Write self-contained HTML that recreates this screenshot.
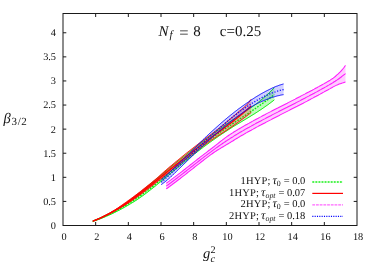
<!DOCTYPE html>
<html><head><meta charset="utf-8"><title>plot</title>
<style>
html,body{margin:0;padding:0;background:#fff;}
body{width:374px;height:262px;overflow:hidden;}
svg{display:block;font-family:"Liberation Serif",serif;}
svg text{fill:#111;text-rendering:geometricPrecision;}
</style></head><body>
<svg width="374" height="262" viewBox="0 0 374 262">
<defs><linearGradient id="rg" gradientUnits="userSpaceOnUse" x1="140" y1="0" x2="185" y2="0"><stop offset="0" stop-color="#ff0000" stop-opacity="0.85"/><stop offset="1" stop-color="#ff0000" stop-opacity="0.22"/></linearGradient></defs>
<rect x="0" y="0" width="374" height="262" fill="#ffffff"/>
<g>
<path d="M92.8,220.9 L93.8,220.5 L94.8,220.1 L95.8,219.7 L96.8,219.3 L97.8,218.9 L98.8,218.5 L99.8,218.1 L100.8,217.6 L101.8,217.2 L102.8,216.7 L103.8,216.2 L104.8,215.7 L105.8,215.2 L106.8,214.7 L107.8,214.2 L108.8,213.7 L109.8,213.2 L110.8,212.6 L111.8,212.1 L112.8,211.6 L113.8,211.0 L114.8,210.4 L115.8,209.8 L116.8,209.2 L117.8,208.6 L118.8,208.0 L119.8,207.3 L120.8,206.7 L121.8,206.0 L122.8,205.3 L123.8,204.7 L124.8,204.0 L125.8,203.3 L126.8,202.6 L127.8,201.8 L128.8,201.1 L129.8,200.4 L130.8,199.6 L131.8,198.9 L132.8,198.1 L133.8,197.3 L134.8,196.5 L135.8,195.7 L136.8,194.9 L137.8,194.1 L138.8,193.3 L139.8,192.5 L140.8,191.8 L141.8,191.0 L142.8,190.2 L143.8,189.4 L144.8,188.6 L145.8,187.8 L146.8,186.9 L147.8,186.1 L148.8,185.3 L149.8,184.5 L150.8,183.6 L151.8,182.8 L152.8,182.0 L153.8,181.2 L154.8,180.4 L155.8,179.5 L156.8,178.7 L157.8,177.9 L158.8,177.1 L159.8,176.2 L160.8,175.4 L161.8,174.6 L162.8,173.7 L163.8,172.9 L164.8,172.0 L165.8,171.2 L166.8,170.4 L167.8,169.5 L168.8,168.7 L169.8,167.8 L170.8,167.0 L171.8,166.1 L172.8,165.3 L173.8,164.5 L174.8,163.7 L175.8,162.9 L176.8,162.1 L177.8,161.3 L178.8,160.5 L179.8,159.7 L180.8,158.9 L181.8,158.1 L182.8,157.3 L183.8,156.6 L184.8,155.8 L185.8,155.0 L186.8,154.2 L187.8,153.4 L188.8,152.6 L189.8,151.8 L190.8,151.0 L191.8,150.2 L192.8,149.4 L193.8,148.6 L194.8,147.8 L195.8,147.0 L196.8,146.3 L197.8,145.5 L198.8,144.7 L199.8,143.9 L200.8,143.2 L201.8,142.4 L202.8,141.6 L203.8,140.9 L204.8,140.1 L205.8,139.3 L206.8,138.6 L207.8,137.8 L208.8,137.1 L209.8,136.4 L210.8,135.6 L211.8,134.9 L212.8,134.1 L213.8,133.4 L214.8,132.6 L215.8,131.9 L216.8,131.2 L217.8,130.4 L218.8,129.7 L219.8,128.9 L220.8,128.2 L221.8,127.5 L222.8,126.8 L223.8,126.0 L224.8,125.3 L225.8,124.6 L226.8,123.9 L227.8,123.2 L228.8,122.5 L229.8,121.8 L230.8,121.2 L231.8,120.5 L232.8,119.8 L233.8,119.1 L234.8,118.5 L235.8,117.8 L236.8,117.1 L237.8,116.5 L238.8,115.8 L239.8,115.2 L240.8,114.5 L241.8,113.8 L242.8,113.2 L243.8,112.5 L244.8,111.8 L245.8,111.2 L246.8,110.5 L247.8,109.8 L248.8,109.1 L249.8,108.5 L250.8,107.8 L251.8,107.1 L252.8,106.4 L253.8,105.7 L254.8,105.0 L255.8,104.3 L256.8,103.5 L257.8,102.7 L258.8,101.9 L259.8,101.1 L260.8,100.2 L261.8,99.4 L262.8,98.5 L263.8,97.7 L264.8,96.8 L265.8,95.9 L266.8,95.0 L267.8,94.1 L268.8,93.1 L269.8,92.2 L270.8,91.2 L271.8,90.2 L272.8,89.2 L273.8,88.2 L274.3,87.7 L274.3,99.9 L273.8,100.3 L272.8,101.1 L271.8,101.8 L270.8,102.6 L269.8,103.3 L268.8,104.1 L267.8,104.8 L266.8,105.5 L265.8,106.2 L264.8,106.9 L263.8,107.6 L262.8,108.3 L261.8,109.0 L260.8,109.7 L259.8,110.3 L258.8,111.0 L257.8,111.6 L256.8,112.3 L255.8,112.9 L254.8,113.6 L253.8,114.2 L252.8,114.8 L251.8,115.4 L250.8,116.1 L249.8,116.7 L248.8,117.3 L247.8,117.9 L246.8,118.5 L245.8,119.1 L244.8,119.7 L243.8,120.3 L242.8,120.9 L241.8,121.5 L240.8,122.1 L239.8,122.7 L238.8,123.3 L237.8,123.9 L236.8,124.5 L235.8,125.1 L234.8,125.7 L233.8,126.3 L232.8,126.9 L231.8,127.6 L230.8,128.2 L229.8,128.8 L228.8,129.5 L227.8,130.1 L226.8,130.8 L225.8,131.4 L224.8,132.1 L223.8,132.8 L222.8,133.4 L221.8,134.1 L220.8,134.8 L219.8,135.4 L218.8,136.1 L217.8,136.8 L216.8,137.5 L215.8,138.2 L214.8,138.9 L213.8,139.6 L212.8,140.3 L211.8,141.0 L210.8,141.7 L209.8,142.4 L208.8,143.2 L207.8,143.9 L206.8,144.6 L205.8,145.4 L204.8,146.1 L203.8,146.8 L202.8,147.6 L201.8,148.4 L200.8,149.1 L199.8,149.9 L198.8,150.6 L197.8,151.4 L196.8,152.2 L195.8,153.0 L194.8,153.7 L193.8,154.5 L192.8,155.3 L191.8,156.1 L190.8,156.9 L189.8,157.7 L188.8,158.5 L187.8,159.3 L186.8,160.1 L185.8,160.9 L184.8,161.7 L183.8,162.6 L182.8,163.4 L181.8,164.2 L180.8,165.0 L179.8,165.8 L178.8,166.6 L177.8,167.5 L176.8,168.3 L175.8,169.1 L174.8,169.9 L173.8,170.8 L172.8,171.6 L171.8,172.4 L170.8,173.3 L169.8,174.1 L168.8,174.9 L167.8,175.8 L166.8,176.6 L165.8,177.4 L164.8,178.3 L163.8,179.1 L162.8,179.9 L161.8,180.8 L160.8,181.6 L159.8,182.4 L158.8,183.2 L157.8,184.0 L156.8,184.8 L155.8,185.7 L154.8,186.5 L153.8,187.3 L152.8,188.1 L151.8,188.8 L150.8,189.6 L149.8,190.4 L148.8,191.2 L147.8,192.0 L146.8,192.7 L145.8,193.5 L144.8,194.2 L143.8,195.0 L142.8,195.7 L141.8,196.4 L140.8,197.1 L139.8,197.8 L138.8,198.5 L137.8,199.2 L136.8,199.9 L135.8,200.5 L134.8,201.2 L133.8,201.8 L132.8,202.4 L131.8,203.0 L130.8,203.6 L129.8,204.2 L128.8,204.8 L127.8,205.4 L126.8,206.0 L125.8,206.5 L124.8,207.1 L123.8,207.7 L122.8,208.2 L121.8,208.8 L120.8,209.3 L119.8,209.9 L118.8,210.4 L117.8,210.9 L116.8,211.4 L115.8,211.9 L114.8,212.4 L113.8,212.9 L112.8,213.4 L111.8,213.9 L110.8,214.3 L109.8,214.8 L108.8,215.2 L107.8,215.7 L106.8,216.1 L105.8,216.5 L104.8,217.0 L103.8,217.4 L102.8,217.8 L101.8,218.2 L100.8,218.6 L99.8,219.0 L98.8,219.4 L97.8,219.7 L96.8,220.1 L95.8,220.5 L94.8,220.8 L93.8,221.2 L92.8,221.5 Z" fill="#00ee00" fill-opacity="0.25" stroke="none"/>
<path d="M92.8,220.9 L93.8,220.5 L94.8,220.1 L95.8,219.7 L96.8,219.3 L97.8,218.9 L98.8,218.5 L99.8,218.1 L100.8,217.6 L101.8,217.2 L102.8,216.7 L103.8,216.2 L104.8,215.7 L105.8,215.2 L106.8,214.7 L107.8,214.2 L108.8,213.7 L109.8,213.2 L110.8,212.6 L111.8,212.1 L112.8,211.6 L113.8,211.0 L114.8,210.4 L115.8,209.8 L116.8,209.2 L117.8,208.6 L118.8,208.0 L119.8,207.3 L120.8,206.7 L121.8,206.0 L122.8,205.3 L123.8,204.7 L124.8,204.0 L125.8,203.3 L126.8,202.6 L127.8,201.8 L128.8,201.1 L129.8,200.4 L130.8,199.6 L131.8,198.9 L132.8,198.1 L133.8,197.3 L134.8,196.5 L135.8,195.7 L136.8,194.9 L137.8,194.1 L138.8,193.3 L139.8,192.5 L140.8,191.8 L141.8,191.0 L142.8,190.2 L143.8,189.4 L144.8,188.6 L145.8,187.8 L146.8,186.9 L147.8,186.1 L148.8,185.3 L149.8,184.5 L150.8,183.6 L151.8,182.8 L152.8,182.0 L153.8,181.2 L154.8,180.4 L155.8,179.5 L156.8,178.7 L157.8,177.9 L158.8,177.1 L159.8,176.2 L160.8,175.4 L161.8,174.6 L162.8,173.7 L163.8,172.9 L164.8,172.0 L165.8,171.2 L166.8,170.4 L167.8,169.5 L168.8,168.7 L169.8,167.8 L170.8,167.0 L171.8,166.1 L172.8,165.3 L173.8,164.5 L174.8,163.7 L175.8,162.9 L176.8,162.1 L177.8,161.3 L178.8,160.5 L179.8,159.7 L180.8,158.9 L181.8,158.1 L182.8,157.3 L183.8,156.6 L184.8,155.8 L185.8,155.0 L186.8,154.2 L187.8,153.4 L188.8,152.6 L189.8,151.8 L190.8,151.0 L191.8,150.2 L192.8,149.4 L193.8,148.6 L194.8,147.8 L195.8,147.0 L196.8,146.3 L197.8,145.5 L198.8,144.7 L199.8,143.9 L200.8,143.2 L201.8,142.4 L202.8,141.6 L203.8,140.9 L204.8,140.1 L205.8,139.3 L206.8,138.6 L207.8,137.8 L208.8,137.1 L209.8,136.4 L210.8,135.6 L211.8,134.9 L212.8,134.1 L213.8,133.4 L214.8,132.6 L215.8,131.9 L216.8,131.2 L217.8,130.4 L218.8,129.7 L219.8,128.9 L220.8,128.2 L221.8,127.5 L222.8,126.8 L223.8,126.0 L224.8,125.3 L225.8,124.6 L226.8,123.9 L227.8,123.2 L228.8,122.5 L229.8,121.8 L230.8,121.2 L231.8,120.5 L232.8,119.8 L233.8,119.1 L234.8,118.5 L235.8,117.8 L236.8,117.1 L237.8,116.5 L238.8,115.8 L239.8,115.2 L240.8,114.5 L241.8,113.8 L242.8,113.2 L243.8,112.5 L244.8,111.8 L245.8,111.2 L246.8,110.5 L247.8,109.8 L248.8,109.1 L249.8,108.5 L250.8,107.8 L251.8,107.1 L252.8,106.4 L253.8,105.7 L254.8,105.0 L255.8,104.3 L256.8,103.5 L257.8,102.7 L258.8,101.9 L259.8,101.1 L260.8,100.2 L261.8,99.4 L262.8,98.5 L263.8,97.7 L264.8,96.8 L265.8,95.9 L266.8,95.0 L267.8,94.1 L268.8,93.1 L269.8,92.2 L270.8,91.2 L271.8,90.2 L272.8,89.2 L273.8,88.2 L274.3,87.7" fill="none" stroke="#00ee00" stroke-width="1.0" stroke-opacity="1.0"/>
<path d="M92.8,221.5 L93.8,221.2 L94.8,220.8 L95.8,220.5 L96.8,220.1 L97.8,219.7 L98.8,219.4 L99.8,219.0 L100.8,218.6 L101.8,218.2 L102.8,217.8 L103.8,217.4 L104.8,217.0 L105.8,216.5 L106.8,216.1 L107.8,215.7 L108.8,215.2 L109.8,214.8 L110.8,214.3 L111.8,213.9 L112.8,213.4 L113.8,212.9 L114.8,212.4 L115.8,211.9 L116.8,211.4 L117.8,210.9 L118.8,210.4 L119.8,209.9 L120.8,209.3 L121.8,208.8 L122.8,208.2 L123.8,207.7 L124.8,207.1 L125.8,206.5 L126.8,206.0 L127.8,205.4 L128.8,204.8 L129.8,204.2 L130.8,203.6 L131.8,203.0 L132.8,202.4 L133.8,201.8 L134.8,201.2 L135.8,200.5 L136.8,199.9 L137.8,199.2 L138.8,198.5 L139.8,197.8 L140.8,197.1 L141.8,196.4 L142.8,195.7 L143.8,195.0 L144.8,194.2 L145.8,193.5 L146.8,192.7 L147.8,192.0 L148.8,191.2 L149.8,190.4 L150.8,189.6 L151.8,188.8 L152.8,188.1 L153.8,187.3 L154.8,186.5 L155.8,185.7 L156.8,184.8 L157.8,184.0 L158.8,183.2 L159.8,182.4 L160.8,181.6 L161.8,180.8 L162.8,179.9 L163.8,179.1 L164.8,178.3 L165.8,177.4 L166.8,176.6 L167.8,175.8 L168.8,174.9 L169.8,174.1 L170.8,173.3 L171.8,172.4 L172.8,171.6 L173.8,170.8 L174.8,169.9 L175.8,169.1 L176.8,168.3 L177.8,167.5 L178.8,166.6 L179.8,165.8 L180.8,165.0 L181.8,164.2 L182.8,163.4 L183.8,162.6 L184.8,161.7 L185.8,160.9 L186.8,160.1 L187.8,159.3 L188.8,158.5 L189.8,157.7 L190.8,156.9 L191.8,156.1 L192.8,155.3 L193.8,154.5 L194.8,153.7 L195.8,153.0 L196.8,152.2 L197.8,151.4 L198.8,150.6 L199.8,149.9 L200.8,149.1 L201.8,148.4 L202.8,147.6 L203.8,146.8 L204.8,146.1 L205.8,145.4 L206.8,144.6 L207.8,143.9 L208.8,143.2 L209.8,142.4 L210.8,141.7 L211.8,141.0 L212.8,140.3 L213.8,139.6 L214.8,138.9 L215.8,138.2 L216.8,137.5 L217.8,136.8 L218.8,136.1 L219.8,135.4 L220.8,134.8 L221.8,134.1 L222.8,133.4 L223.8,132.8 L224.8,132.1 L225.8,131.4 L226.8,130.8 L227.8,130.1 L228.8,129.5 L229.8,128.8 L230.8,128.2 L231.8,127.6 L232.8,126.9 L233.8,126.3 L234.8,125.7 L235.8,125.1 L236.8,124.5 L237.8,123.9 L238.8,123.3 L239.8,122.7 L240.8,122.1 L241.8,121.5 L242.8,120.9 L243.8,120.3 L244.8,119.7 L245.8,119.1 L246.8,118.5 L247.8,117.9 L248.8,117.3 L249.8,116.7 L250.8,116.1 L251.8,115.4 L252.8,114.8 L253.8,114.2 L254.8,113.6 L255.8,112.9 L256.8,112.3 L257.8,111.6 L258.8,111.0 L259.8,110.3 L260.8,109.7 L261.8,109.0 L262.8,108.3 L263.8,107.6 L264.8,106.9 L265.8,106.2 L266.8,105.5 L267.8,104.8 L268.8,104.1 L269.8,103.3 L270.8,102.6 L271.8,101.8 L272.8,101.1 L273.8,100.3 L274.3,99.9" fill="none" stroke="#00ee00" stroke-width="1.0" stroke-opacity="1.0"/>
<path d="M92.8,221.2 L93.8,220.8 L94.8,220.5 L95.8,220.1 L96.8,219.7 L97.8,219.3 L98.8,218.9 L99.8,218.5 L100.8,218.1 L101.8,217.6 L102.8,217.2 L103.8,216.8 L104.8,216.3 L105.8,215.9 L106.8,215.4 L107.8,214.9 L108.8,214.5 L109.8,214.0 L110.8,213.5 L111.8,213.0 L112.8,212.5 L113.8,212.0 L114.8,211.5 L115.8,211.0 L116.8,210.4 L117.8,209.9 L118.8,209.3 L119.8,208.8 L120.8,208.2 L121.8,207.7 L122.8,207.1 L123.8,206.5 L124.8,205.9 L125.8,205.3 L126.8,204.7 L127.8,204.1 L128.8,203.5 L129.8,202.9 L130.8,202.2 L131.8,201.6 L132.8,200.9 L133.8,200.3 L134.8,199.6 L135.8,198.9 L136.8,198.2 L137.8,197.6 L138.8,196.9 L139.8,196.2 L140.8,195.4 L141.8,194.7 L142.8,194.0 L143.8,193.3 L144.8,192.5 L145.8,191.8 L146.8,191.0 L147.8,190.3 L148.8,189.5 L149.8,188.7 L150.8,187.9 L151.8,187.1 L152.8,186.4 L153.8,185.6 L154.8,184.8 L155.8,184.0 L156.8,183.1 L157.8,182.3 L158.8,181.5 L159.8,180.7 L160.8,179.9 L161.8,179.0 L162.8,178.2 L163.8,177.4 L164.8,176.5 L165.8,175.7 L166.8,174.8 L167.8,174.0 L168.8,173.2 L169.8,172.3 L170.8,171.5 L171.8,170.6 L172.8,169.8 L173.8,168.9 L174.8,168.1 L175.8,167.2 L176.8,166.4 L177.8,165.5 L178.8,164.7 L179.8,163.8 L180.8,163.0 L181.8,162.1 L182.8,161.3 L183.8,160.4 L184.8,159.6 L185.8,158.7 L186.8,157.9 L187.8,157.1 L188.8,156.2 L189.8,155.4 L190.8,154.6 L191.8,153.8 L192.8,152.9 L193.8,152.1 L194.8,151.3 L195.8,150.5 L196.8,149.7 L197.8,148.9 L198.8,148.1 L199.8,147.3 L200.8,146.5 L201.8,145.7 L202.8,145.0 L203.8,144.2 L204.8,143.4 L205.8,142.7 L206.8,141.9 L207.8,141.1 L208.8,140.4 L209.8,139.7 L210.8,138.9 L211.8,138.2 L212.8,137.4 L213.8,136.7 L214.8,136.0 L215.8,135.3 L216.8,134.6 L217.8,133.9 L218.8,133.2 L219.8,132.5 L220.8,131.8 L221.8,131.1 L222.8,130.4 L223.8,129.7 L224.8,129.0 L225.8,128.3 L226.8,127.7 L227.8,127.0 L228.8,126.3 L229.8,125.6 L230.8,125.0 L231.8,124.3 L232.8,123.6 L233.8,123.0 L234.8,122.3 L235.8,121.6 L236.8,121.0 L237.8,120.3 L238.8,119.7 L239.8,119.0 L240.8,118.3 L241.8,117.7 L242.8,117.0 L243.8,116.3 L244.8,115.7 L245.8,115.0 L246.8,114.3 L247.8,113.7 L248.8,113.0 L249.8,112.3 L250.8,111.6 L251.8,111.0 L252.8,110.3 L253.8,109.6 L254.8,108.9 L255.8,108.2 L256.8,107.5 L257.8,106.8 L258.8,106.1 L259.8,105.4 L260.8,104.7 L261.8,104.0 L262.8,103.3 L263.8,102.5 L264.8,101.8 L265.8,101.1 L266.8,100.3 L267.8,99.6 L268.8,98.8 L269.8,98.0 L270.8,97.3 L271.8,96.5 L272.8,95.7 L273.8,94.9 L274.3,94.5" fill="none" stroke="#00ee00" stroke-width="1.4" stroke-dasharray="1.6,1.4" stroke-opacity="1.0"/>
<path d="M92.8,221.0 L93.8,220.6 L94.8,220.2 L95.8,219.8 L96.8,219.4 L97.8,218.9 L98.8,218.5 L99.8,218.1 L100.8,217.6 L101.8,217.1 L102.8,216.6 L103.8,216.1 L104.8,215.6 L105.8,215.1 L106.8,214.5 L107.8,214.0 L108.8,213.4 L109.8,212.9 L110.8,212.3 L111.8,211.7 L112.8,211.1 L113.8,210.5 L114.8,209.9 L115.8,209.3 L116.8,208.6 L117.8,208.0 L118.8,207.3 L119.8,206.6 L120.8,205.9 L121.8,205.2 L122.8,204.5 L123.8,203.8 L124.8,203.1 L125.8,202.4 L126.8,201.7 L127.8,200.9 L128.8,200.2 L129.8,199.5 L130.8,198.8 L131.8,198.0 L132.8,197.3 L133.8,196.5 L134.8,195.8 L135.8,195.0 L136.8,194.3 L137.8,193.5 L138.8,192.7 L139.8,192.0 L140.8,191.2 L141.8,190.4 L142.8,189.6 L143.8,188.8 L144.8,188.0 L145.8,187.2 L146.8,186.4 L147.8,185.6 L148.8,184.8 L149.8,184.0 L150.8,183.2 L151.8,182.4 L152.8,181.6 L153.8,180.7 L154.8,179.9 L155.8,179.1 L156.8,178.2 L157.8,177.4 L158.8,176.5 L159.8,175.6 L160.8,174.7 L161.8,173.8 L162.8,172.9 L163.8,172.0 L164.8,171.1 L165.8,170.3 L166.8,169.4 L167.8,168.5 L168.8,167.7 L169.8,166.8 L170.8,166.0 L171.8,165.2 L172.8,164.3 L173.8,163.5 L174.8,162.7 L175.8,161.8 L176.8,161.0 L177.8,160.2 L178.8,159.4 L179.8,158.6 L180.8,157.8 L181.8,156.9 L182.8,156.1 L183.8,155.3 L184.8,154.5 L185.8,153.7 L186.8,152.9 L187.8,152.1 L188.8,151.3 L189.8,150.6 L190.8,149.8 L191.8,149.0 L192.8,148.2 L193.8,147.4 L194.8,146.7 L195.8,145.9 L196.8,145.1 L197.8,144.4 L198.8,143.6 L199.8,142.9 L200.8,142.1 L201.8,141.3 L202.8,140.6 L203.8,139.8 L204.8,139.1 L205.8,138.3 L206.8,137.6 L207.8,136.8 L208.8,136.1 L209.8,135.4 L210.8,134.6 L211.8,133.9 L212.8,133.1 L213.8,132.3 L214.8,131.6 L215.8,130.8 L216.8,130.0 L217.8,129.2 L218.8,128.4 L219.8,127.6 L220.8,126.8 L221.8,126.0 L222.8,125.2 L223.8,124.4 L224.8,123.5 L225.8,122.7 L226.8,121.8 L227.8,121.0 L228.8,120.1 L229.8,119.3 L230.8,118.5 L231.8,117.6 L232.8,116.8 L233.8,115.9 L234.8,115.1 L235.8,114.2 L236.8,113.3 L237.8,112.5 L238.8,111.7 L239.8,110.8 L240.8,110.0 L241.8,109.2 L242.8,108.4 L243.8,107.6 L244.8,106.7 L245.8,105.8 L246.8,104.8 L247.8,103.6 L248.8,102.4 L249.8,101.1 L250.8,99.7 L251.2,99.2 L251.2,112.5 L250.8,112.8 L249.8,113.5 L248.8,114.3 L247.8,115.1 L246.8,115.8 L245.8,116.6 L244.8,117.3 L243.8,118.1 L242.8,118.8 L241.8,119.5 L240.8,120.3 L239.8,121.0 L238.8,121.7 L237.8,122.5 L236.8,123.2 L235.8,123.9 L234.8,124.6 L233.8,125.3 L232.8,126.0 L231.8,126.7 L230.8,127.4 L229.8,128.1 L228.8,128.7 L227.8,129.4 L226.8,130.1 L225.8,130.7 L224.8,131.4 L223.8,132.0 L222.8,132.7 L221.8,133.3 L220.8,134.0 L219.8,134.6 L218.8,135.3 L217.8,135.9 L216.8,136.6 L215.8,137.2 L214.8,137.9 L213.8,138.5 L212.8,139.2 L211.8,139.9 L210.8,140.6 L209.8,141.3 L208.8,142.0 L207.8,142.7 L206.8,143.4 L205.8,144.1 L204.8,144.9 L203.8,145.6 L202.8,146.3 L201.8,147.1 L200.8,147.8 L199.8,148.6 L198.8,149.3 L197.8,150.1 L196.8,150.8 L195.8,151.6 L194.8,152.3 L193.8,153.1 L192.8,153.9 L191.8,154.6 L190.8,155.4 L189.8,156.2 L188.8,156.9 L187.8,157.7 L186.8,158.5 L185.8,159.2 L184.8,160.0 L183.8,160.8 L182.8,161.6 L181.8,162.3 L180.8,163.1 L179.8,163.9 L178.8,164.7 L177.8,165.5 L176.8,166.2 L175.8,167.0 L174.8,167.8 L173.8,168.6 L172.8,169.4 L171.8,170.2 L170.8,171.0 L169.8,171.8 L168.8,172.6 L167.8,173.3 L166.8,174.1 L165.8,174.9 L164.8,175.7 L163.8,176.5 L162.8,177.3 L161.8,178.1 L160.8,178.9 L159.8,179.7 L158.8,180.5 L157.8,181.2 L156.8,182.0 L155.8,182.8 L154.8,183.6 L153.8,184.4 L152.8,185.2 L151.8,185.9 L150.8,186.7 L149.8,187.5 L148.8,188.3 L147.8,189.0 L146.8,189.8 L145.8,190.5 L144.8,191.3 L143.8,192.0 L142.8,192.8 L141.8,193.5 L140.8,194.3 L139.8,195.0 L138.8,195.7 L137.8,196.4 L136.8,197.2 L135.8,197.9 L134.8,198.6 L133.8,199.3 L132.8,200.0 L131.8,200.6 L130.8,201.3 L129.8,202.0 L128.8,202.7 L127.8,203.3 L126.8,204.0 L125.8,204.6 L124.8,205.2 L123.8,205.8 L122.8,206.4 L121.8,207.0 L120.8,207.6 L119.8,208.2 L118.8,208.8 L117.8,209.4 L116.8,209.9 L115.8,210.5 L114.8,211.1 L113.8,211.6 L112.8,212.2 L111.8,212.7 L110.8,213.2 L109.8,213.8 L108.8,214.3 L107.8,214.8 L106.8,215.3 L105.8,215.8 L104.8,216.2 L103.8,216.7 L102.8,217.2 L101.8,217.6 L100.8,218.1 L99.8,218.5 L98.8,218.9 L97.8,219.3 L96.8,219.7 L95.8,220.1 L94.8,220.5 L93.8,220.9 L92.8,221.3 Z" fill="url(#rg)" fill-opacity="1" stroke="none"/>
<path d="M92.8,221.0 L93.8,220.6 L94.8,220.2 L95.8,219.8 L96.8,219.4 L97.8,218.9 L98.8,218.5 L99.8,218.1 L100.8,217.6 L101.8,217.1 L102.8,216.6 L103.8,216.1 L104.8,215.6 L105.8,215.1 L106.8,214.5 L107.8,214.0 L108.8,213.4 L109.8,212.9 L110.8,212.3 L111.8,211.7 L112.8,211.1 L113.8,210.5 L114.8,209.9 L115.8,209.3 L116.8,208.6 L117.8,208.0 L118.8,207.3 L119.8,206.6 L120.8,205.9 L121.8,205.2 L122.8,204.5 L123.8,203.8 L124.8,203.1 L125.8,202.4 L126.8,201.7 L127.8,200.9 L128.8,200.2 L129.8,199.5 L130.8,198.8 L131.8,198.0 L132.8,197.3 L133.8,196.5 L134.8,195.8 L135.8,195.0 L136.8,194.3 L137.8,193.5 L138.8,192.7 L139.8,192.0 L140.8,191.2 L141.8,190.4 L142.8,189.6 L143.8,188.8 L144.8,188.0 L145.8,187.2 L146.8,186.4 L147.8,185.6 L148.8,184.8 L149.8,184.0 L150.8,183.2 L151.8,182.4 L152.8,181.6 L153.8,180.7 L154.8,179.9 L155.8,179.1 L156.8,178.2 L157.8,177.4 L158.8,176.5 L159.8,175.6 L160.8,174.7 L161.8,173.8 L162.8,172.9 L163.8,172.0 L164.8,171.1 L165.8,170.3 L166.8,169.4 L167.8,168.5 L168.8,167.7 L169.8,166.8 L170.8,166.0 L171.8,165.2 L172.8,164.3 L173.8,163.5 L174.8,162.7 L175.8,161.8 L176.8,161.0 L177.8,160.2 L178.8,159.4 L179.8,158.6 L180.8,157.8 L181.8,156.9 L182.8,156.1 L183.8,155.3 L184.8,154.5 L185.8,153.7 L186.8,152.9 L187.8,152.1 L188.8,151.3 L189.8,150.6 L190.8,149.8 L191.8,149.0 L192.8,148.2 L193.8,147.4 L194.8,146.7 L195.8,145.9 L196.8,145.1 L197.8,144.4 L198.8,143.6 L199.8,142.9 L200.8,142.1 L201.8,141.3 L202.8,140.6 L203.8,139.8 L204.8,139.1 L205.8,138.3 L206.8,137.6 L207.8,136.8 L208.8,136.1 L209.8,135.4 L210.8,134.6 L211.8,133.9 L212.8,133.1 L213.8,132.3 L214.8,131.6 L215.8,130.8 L216.8,130.0 L217.8,129.2 L218.8,128.4 L219.8,127.6 L220.8,126.8 L221.8,126.0 L222.8,125.2 L223.8,124.4 L224.8,123.5 L225.8,122.7 L226.8,121.8 L227.8,121.0 L228.8,120.1 L229.8,119.3 L230.8,118.5 L231.8,117.6 L232.8,116.8 L233.8,115.9 L234.8,115.1 L235.8,114.2 L236.8,113.3 L237.8,112.5 L238.8,111.7 L239.8,110.8 L240.8,110.0 L241.8,109.2 L242.8,108.4 L243.8,107.6 L244.8,106.7 L245.8,105.8 L246.8,104.8 L247.8,103.6 L248.8,102.4 L249.8,101.1 L250.8,99.7 L251.2,99.2" fill="none" stroke="#ff0000" stroke-width="1.0" stroke-opacity="1.0"/>
<path d="M92.8,221.3 L93.8,220.9 L94.8,220.5 L95.8,220.1 L96.8,219.7 L97.8,219.3 L98.8,218.9 L99.8,218.5 L100.8,218.1 L101.8,217.6 L102.8,217.2 L103.8,216.7 L104.8,216.2 L105.8,215.8 L106.8,215.3 L107.8,214.8 L108.8,214.3 L109.8,213.8 L110.8,213.2 L111.8,212.7 L112.8,212.2 L113.8,211.6 L114.8,211.1 L115.8,210.5 L116.8,209.9 L117.8,209.4 L118.8,208.8 L119.8,208.2 L120.8,207.6 L121.8,207.0 L122.8,206.4 L123.8,205.8 L124.8,205.2 L125.8,204.6 L126.8,204.0 L127.8,203.3 L128.8,202.7 L129.8,202.0 L130.8,201.3 L131.8,200.6 L132.8,200.0 L133.8,199.3 L134.8,198.6 L135.8,197.9 L136.8,197.2 L137.8,196.4 L138.8,195.7 L139.8,195.0 L140.8,194.3 L141.8,193.5 L142.8,192.8 L143.8,192.0 L144.8,191.3 L145.8,190.5 L146.8,189.8 L147.8,189.0 L148.8,188.3 L149.8,187.5 L150.8,186.7 L151.8,185.9 L152.8,185.2 L153.8,184.4 L154.8,183.6 L155.8,182.8 L156.8,182.0 L157.8,181.2 L158.8,180.5 L159.8,179.7 L160.8,178.9 L161.8,178.1 L162.8,177.3 L163.8,176.5 L164.8,175.7 L165.8,174.9 L166.8,174.1 L167.8,173.3 L168.8,172.6 L169.8,171.8 L170.8,171.0 L171.8,170.2 L172.8,169.4 L173.8,168.6 L174.8,167.8 L175.8,167.0 L176.8,166.2 L177.8,165.5 L178.8,164.7 L179.8,163.9 L180.8,163.1 L181.8,162.3 L182.8,161.6 L183.8,160.8 L184.8,160.0 L185.8,159.2 L186.8,158.5 L187.8,157.7 L188.8,156.9 L189.8,156.2 L190.8,155.4 L191.8,154.6 L192.8,153.9 L193.8,153.1 L194.8,152.3 L195.8,151.6 L196.8,150.8 L197.8,150.1 L198.8,149.3 L199.8,148.6 L200.8,147.8 L201.8,147.1 L202.8,146.3 L203.8,145.6 L204.8,144.9 L205.8,144.1 L206.8,143.4 L207.8,142.7 L208.8,142.0 L209.8,141.3 L210.8,140.6 L211.8,139.9 L212.8,139.2 L213.8,138.5 L214.8,137.9 L215.8,137.2 L216.8,136.6 L217.8,135.9 L218.8,135.3 L219.8,134.6 L220.8,134.0 L221.8,133.3 L222.8,132.7 L223.8,132.0 L224.8,131.4 L225.8,130.7 L226.8,130.1 L227.8,129.4 L228.8,128.7 L229.8,128.1 L230.8,127.4 L231.8,126.7 L232.8,126.0 L233.8,125.3 L234.8,124.6 L235.8,123.9 L236.8,123.2 L237.8,122.5 L238.8,121.7 L239.8,121.0 L240.8,120.3 L241.8,119.5 L242.8,118.8 L243.8,118.1 L244.8,117.3 L245.8,116.6 L246.8,115.8 L247.8,115.1 L248.8,114.3 L249.8,113.5 L250.8,112.8 L251.2,112.5" fill="none" stroke="#ff0000" stroke-width="1.0" stroke-opacity="1.0"/>
<path d="M92.8,221.1 L93.8,220.7 L94.8,220.4 L95.8,220.0 L96.8,219.6 L97.8,219.1 L98.8,218.7 L99.8,218.3 L100.8,217.8 L101.8,217.4 L102.8,216.9 L103.8,216.4 L104.8,215.9 L105.8,215.4 L106.8,214.9 L107.8,214.4 L108.8,213.9 L109.8,213.3 L110.8,212.8 L111.8,212.2 L112.8,211.6 L113.8,211.1 L114.8,210.5 L115.8,209.9 L116.8,209.3 L117.8,208.7 L118.8,208.0 L119.8,207.4 L120.8,206.8 L121.8,206.1 L122.8,205.5 L123.8,204.8 L124.8,204.2 L125.8,203.5 L126.8,202.8 L127.8,202.1 L128.8,201.4 L129.8,200.7 L130.8,200.0 L131.8,199.3 L132.8,198.6 L133.8,197.9 L134.8,197.2 L135.8,196.4 L136.8,195.7 L137.8,195.0 L138.8,194.2 L139.8,193.5 L140.8,192.7 L141.8,192.0 L142.8,191.2 L143.8,190.4 L144.8,189.7 L145.8,188.9 L146.8,188.1 L147.8,187.3 L148.8,186.6 L149.8,185.8 L150.8,185.0 L151.8,184.2 L152.8,183.4 L153.8,182.6 L154.8,181.8 L155.8,181.0 L156.8,180.2 L157.8,179.4 L158.8,178.6 L159.8,177.8 L160.8,177.0 L161.8,176.2 L162.8,175.4 L163.8,174.6 L164.8,173.8 L165.8,172.9 L166.8,172.1 L167.8,171.3 L168.8,170.5 L169.8,169.7 L170.8,168.9 L171.8,168.1 L172.8,167.3 L173.8,166.5 L174.8,165.7 L175.8,164.9 L176.8,164.1 L177.8,163.3 L178.8,162.5 L179.8,161.7 L180.8,160.9 L181.8,160.1 L182.8,159.3 L183.8,158.5 L184.8,157.7 L185.8,156.9 L186.8,156.1 L187.8,155.3 L188.8,154.5 L189.8,153.8 L190.8,153.0 L191.8,152.2 L192.8,151.4 L193.8,150.6 L194.8,149.9 L195.8,149.1 L196.8,148.3 L197.8,147.5 L198.8,146.8 L199.8,146.0 L200.8,145.2 L201.8,144.5 L202.8,143.7 L203.8,143.0 L204.8,142.2 L205.8,141.5 L206.8,140.7 L207.8,140.0 L208.8,139.2 L209.8,138.5 L210.8,137.7 L211.8,137.0 L212.8,136.3 L213.8,135.5 L214.8,134.8 L215.8,134.1 L216.8,133.3 L217.8,132.6 L218.8,131.9 L219.8,131.1 L220.8,130.4 L221.8,129.7 L222.8,128.9 L223.8,128.2 L224.8,127.4 L225.8,126.7 L226.8,126.0 L227.8,125.2 L228.8,124.5 L229.8,123.7 L230.8,122.9 L231.8,122.2 L232.8,121.4 L233.8,120.6 L234.8,119.8 L235.8,119.0 L236.8,118.3 L237.8,117.5 L238.8,116.6 L239.8,115.8 L240.8,115.0 L241.8,114.2 L242.8,113.3 L243.8,112.5 L244.8,111.6 L245.8,110.7 L246.8,109.9 L247.8,109.0 L248.8,108.1 L249.8,107.2 L250.8,106.2 L251.2,105.9" fill="none" stroke="#ff0000" stroke-width="1.4" stroke-opacity="1.0"/>
<path d="M166.2,183.3 L167.2,182.6 L168.2,181.9 L169.2,181.2 L170.2,180.4 L171.2,179.7 L172.2,178.9 L173.2,178.2 L174.2,177.4 L175.2,176.7 L176.2,175.9 L177.2,175.2 L178.2,174.4 L179.2,173.6 L180.2,172.9 L181.2,172.1 L182.2,171.3 L183.2,170.5 L184.2,169.7 L185.2,169.0 L186.2,168.2 L187.2,167.4 L188.2,166.6 L189.2,165.8 L190.2,165.0 L191.2,164.2 L192.2,163.5 L193.2,162.7 L194.2,161.9 L195.2,161.1 L196.2,160.3 L197.2,159.5 L198.2,158.7 L199.2,158.0 L200.2,157.2 L201.2,156.4 L202.2,155.6 L203.2,154.9 L204.2,154.1 L205.2,153.3 L206.2,152.6 L207.2,151.8 L208.2,151.0 L209.2,150.3 L210.2,149.5 L211.2,148.8 L212.2,148.0 L213.2,147.2 L214.2,146.5 L215.2,145.7 L216.2,144.9 L217.2,144.1 L218.2,143.3 L219.2,142.5 L220.2,141.7 L221.2,140.9 L222.2,140.2 L223.2,139.4 L224.2,138.6 L225.2,137.9 L226.2,137.2 L227.2,136.4 L228.2,135.7 L229.2,135.0 L230.2,134.4 L231.2,133.7 L232.2,133.1 L233.2,132.5 L234.2,131.8 L235.2,131.2 L236.2,130.6 L237.2,130.0 L238.2,129.4 L239.2,128.8 L240.2,128.2 L241.2,127.6 L242.2,127.0 L243.2,126.5 L244.2,125.9 L245.2,125.3 L246.2,124.7 L247.2,124.2 L248.2,123.6 L249.2,123.1 L250.2,122.5 L251.2,122.0 L252.2,121.4 L253.2,120.9 L254.2,120.3 L255.2,119.8 L256.2,119.2 L257.2,118.7 L258.2,118.2 L259.2,117.6 L260.2,117.1 L261.2,116.6 L262.2,116.0 L263.2,115.5 L264.2,115.0 L265.2,114.5 L266.2,113.9 L267.2,113.4 L268.2,112.9 L269.2,112.4 L270.2,111.9 L271.2,111.4 L272.2,110.8 L273.2,110.3 L274.2,109.8 L275.2,109.3 L276.2,108.8 L277.2,108.3 L278.2,107.8 L279.2,107.2 L280.2,106.7 L281.2,106.2 L282.2,105.7 L283.2,105.2 L284.2,104.7 L285.2,104.2 L286.2,103.7 L287.2,103.2 L288.2,102.6 L289.2,102.1 L290.2,101.6 L291.2,101.1 L292.2,100.6 L293.2,100.1 L294.2,99.6 L295.2,99.1 L296.2,98.5 L297.2,98.0 L298.2,97.5 L299.2,97.0 L300.2,96.5 L301.2,95.9 L302.2,95.4 L303.2,94.9 L304.2,94.4 L305.2,93.9 L306.2,93.3 L307.2,92.8 L308.2,92.3 L309.2,91.8 L310.2,91.2 L311.2,90.7 L312.2,90.2 L313.2,89.6 L314.2,89.1 L315.2,88.5 L316.2,88.0 L317.2,87.5 L318.2,86.9 L319.2,86.4 L320.2,85.8 L321.2,85.3 L322.2,84.7 L323.2,84.1 L324.2,83.6 L325.2,83.0 L326.2,82.5 L327.2,81.9 L328.2,81.3 L329.2,80.7 L330.2,80.1 L331.2,79.4 L332.2,78.8 L333.2,78.1 L334.2,77.3 L335.2,76.5 L336.2,75.6 L337.2,74.7 L338.2,73.8 L339.2,72.8 L340.2,71.9 L341.2,70.8 L342.2,69.7 L343.2,68.5 L344.2,67.2 L345.2,65.8 L345.5,65.4 L345.5,81.9 L345.2,82.0 L344.2,82.4 L343.2,82.8 L342.2,83.1 L341.2,83.4 L340.2,83.7 L339.2,84.0 L338.2,84.5 L337.2,84.9 L336.2,85.4 L335.2,85.9 L334.2,86.4 L333.2,86.9 L332.2,87.5 L331.2,88.0 L330.2,88.6 L329.2,89.1 L328.2,89.7 L327.2,90.2 L326.2,90.8 L325.2,91.3 L324.2,91.9 L323.2,92.4 L322.2,93.0 L321.2,93.5 L320.2,94.1 L319.2,94.6 L318.2,95.2 L317.2,95.7 L316.2,96.3 L315.2,96.8 L314.2,97.3 L313.2,97.9 L312.2,98.4 L311.2,98.9 L310.2,99.5 L309.2,100.0 L308.2,100.5 L307.2,101.1 L306.2,101.6 L305.2,102.1 L304.2,102.6 L303.2,103.2 L302.2,103.7 L301.2,104.2 L300.2,104.7 L299.2,105.2 L298.2,105.7 L297.2,106.3 L296.2,106.8 L295.2,107.3 L294.2,107.8 L293.2,108.3 L292.2,108.8 L291.2,109.3 L290.2,109.8 L289.2,110.4 L288.2,110.9 L287.2,111.4 L286.2,111.9 L285.2,112.4 L284.2,112.9 L283.2,113.4 L282.2,113.9 L281.2,114.4 L280.2,114.9 L279.2,115.5 L278.2,116.0 L277.2,116.5 L276.2,117.0 L275.2,117.5 L274.2,118.0 L273.2,118.5 L272.2,119.0 L271.2,119.6 L270.2,120.1 L269.2,120.6 L268.2,121.1 L267.2,121.6 L266.2,122.1 L265.2,122.7 L264.2,123.2 L263.2,123.7 L262.2,124.2 L261.2,124.8 L260.2,125.3 L259.2,125.8 L258.2,126.4 L257.2,126.9 L256.2,127.4 L255.2,128.0 L254.2,128.5 L253.2,129.1 L252.2,129.6 L251.2,130.2 L250.2,130.7 L249.2,131.3 L248.2,131.8 L247.2,132.4 L246.2,132.9 L245.2,133.5 L244.2,134.1 L243.2,134.7 L242.2,135.2 L241.2,135.8 L240.2,136.4 L239.2,137.0 L238.2,137.6 L237.2,138.2 L236.2,138.8 L235.2,139.4 L234.2,140.0 L233.2,140.7 L232.2,141.3 L231.2,141.9 L230.2,142.5 L229.2,143.1 L228.2,143.7 L227.2,144.3 L226.2,144.9 L225.2,145.5 L224.2,146.1 L223.2,146.7 L222.2,147.3 L221.2,147.9 L220.2,148.5 L219.2,149.1 L218.2,149.7 L217.2,150.3 L216.2,151.0 L215.2,151.6 L214.2,152.3 L213.2,153.0 L212.2,153.7 L211.2,154.4 L210.2,155.1 L209.2,155.9 L208.2,156.6 L207.2,157.4 L206.2,158.2 L205.2,158.9 L204.2,159.7 L203.2,160.5 L202.2,161.2 L201.2,162.0 L200.2,162.8 L199.2,163.6 L198.2,164.3 L197.2,165.1 L196.2,165.9 L195.2,166.7 L194.2,167.5 L193.2,168.3 L192.2,169.1 L191.2,169.8 L190.2,170.6 L189.2,171.4 L188.2,172.2 L187.2,173.0 L186.2,173.8 L185.2,174.6 L184.2,175.3 L183.2,176.1 L182.2,176.9 L181.2,177.7 L180.2,178.5 L179.2,179.2 L178.2,180.0 L177.2,180.8 L176.2,181.5 L175.2,182.3 L174.2,183.0 L173.2,183.8 L172.2,184.5 L171.2,185.3 L170.2,186.0 L169.2,186.8 L168.2,187.5 L167.2,188.2 L166.2,188.9 Z" fill="#ff00ff" fill-opacity="0.2" stroke="none"/>
<path d="M166.2,183.3 L167.2,182.6 L168.2,181.9 L169.2,181.2 L170.2,180.4 L171.2,179.7 L172.2,178.9 L173.2,178.2 L174.2,177.4 L175.2,176.7 L176.2,175.9 L177.2,175.2 L178.2,174.4 L179.2,173.6 L180.2,172.9 L181.2,172.1 L182.2,171.3 L183.2,170.5 L184.2,169.7 L185.2,169.0 L186.2,168.2 L187.2,167.4 L188.2,166.6 L189.2,165.8 L190.2,165.0 L191.2,164.2 L192.2,163.5 L193.2,162.7 L194.2,161.9 L195.2,161.1 L196.2,160.3 L197.2,159.5 L198.2,158.7 L199.2,158.0 L200.2,157.2 L201.2,156.4 L202.2,155.6 L203.2,154.9 L204.2,154.1 L205.2,153.3 L206.2,152.6 L207.2,151.8 L208.2,151.0 L209.2,150.3 L210.2,149.5 L211.2,148.8 L212.2,148.0 L213.2,147.2 L214.2,146.5 L215.2,145.7 L216.2,144.9 L217.2,144.1 L218.2,143.3 L219.2,142.5 L220.2,141.7 L221.2,140.9 L222.2,140.2 L223.2,139.4 L224.2,138.6 L225.2,137.9 L226.2,137.2 L227.2,136.4 L228.2,135.7 L229.2,135.0 L230.2,134.4 L231.2,133.7 L232.2,133.1 L233.2,132.5 L234.2,131.8 L235.2,131.2 L236.2,130.6 L237.2,130.0 L238.2,129.4 L239.2,128.8 L240.2,128.2 L241.2,127.6 L242.2,127.0 L243.2,126.5 L244.2,125.9 L245.2,125.3 L246.2,124.7 L247.2,124.2 L248.2,123.6 L249.2,123.1 L250.2,122.5 L251.2,122.0 L252.2,121.4 L253.2,120.9 L254.2,120.3 L255.2,119.8 L256.2,119.2 L257.2,118.7 L258.2,118.2 L259.2,117.6 L260.2,117.1 L261.2,116.6 L262.2,116.0 L263.2,115.5 L264.2,115.0 L265.2,114.5 L266.2,113.9 L267.2,113.4 L268.2,112.9 L269.2,112.4 L270.2,111.9 L271.2,111.4 L272.2,110.8 L273.2,110.3 L274.2,109.8 L275.2,109.3 L276.2,108.8 L277.2,108.3 L278.2,107.8 L279.2,107.2 L280.2,106.7 L281.2,106.2 L282.2,105.7 L283.2,105.2 L284.2,104.7 L285.2,104.2 L286.2,103.7 L287.2,103.2 L288.2,102.6 L289.2,102.1 L290.2,101.6 L291.2,101.1 L292.2,100.6 L293.2,100.1 L294.2,99.6 L295.2,99.1 L296.2,98.5 L297.2,98.0 L298.2,97.5 L299.2,97.0 L300.2,96.5 L301.2,95.9 L302.2,95.4 L303.2,94.9 L304.2,94.4 L305.2,93.9 L306.2,93.3 L307.2,92.8 L308.2,92.3 L309.2,91.8 L310.2,91.2 L311.2,90.7 L312.2,90.2 L313.2,89.6 L314.2,89.1 L315.2,88.5 L316.2,88.0 L317.2,87.5 L318.2,86.9 L319.2,86.4 L320.2,85.8 L321.2,85.3 L322.2,84.7 L323.2,84.1 L324.2,83.6 L325.2,83.0 L326.2,82.5 L327.2,81.9 L328.2,81.3 L329.2,80.7 L330.2,80.1 L331.2,79.4 L332.2,78.8 L333.2,78.1 L334.2,77.3 L335.2,76.5 L336.2,75.6 L337.2,74.7 L338.2,73.8 L339.2,72.8 L340.2,71.9 L341.2,70.8 L342.2,69.7 L343.2,68.5 L344.2,67.2 L345.2,65.8 L345.5,65.4" fill="none" stroke="#ff00ff" stroke-width="1.05" stroke-opacity="0.9"/>
<path d="M166.2,188.9 L167.2,188.2 L168.2,187.5 L169.2,186.8 L170.2,186.0 L171.2,185.3 L172.2,184.5 L173.2,183.8 L174.2,183.0 L175.2,182.3 L176.2,181.5 L177.2,180.8 L178.2,180.0 L179.2,179.2 L180.2,178.5 L181.2,177.7 L182.2,176.9 L183.2,176.1 L184.2,175.3 L185.2,174.6 L186.2,173.8 L187.2,173.0 L188.2,172.2 L189.2,171.4 L190.2,170.6 L191.2,169.8 L192.2,169.1 L193.2,168.3 L194.2,167.5 L195.2,166.7 L196.2,165.9 L197.2,165.1 L198.2,164.3 L199.2,163.6 L200.2,162.8 L201.2,162.0 L202.2,161.2 L203.2,160.5 L204.2,159.7 L205.2,158.9 L206.2,158.2 L207.2,157.4 L208.2,156.6 L209.2,155.9 L210.2,155.1 L211.2,154.4 L212.2,153.7 L213.2,153.0 L214.2,152.3 L215.2,151.6 L216.2,151.0 L217.2,150.3 L218.2,149.7 L219.2,149.1 L220.2,148.5 L221.2,147.9 L222.2,147.3 L223.2,146.7 L224.2,146.1 L225.2,145.5 L226.2,144.9 L227.2,144.3 L228.2,143.7 L229.2,143.1 L230.2,142.5 L231.2,141.9 L232.2,141.3 L233.2,140.7 L234.2,140.0 L235.2,139.4 L236.2,138.8 L237.2,138.2 L238.2,137.6 L239.2,137.0 L240.2,136.4 L241.2,135.8 L242.2,135.2 L243.2,134.7 L244.2,134.1 L245.2,133.5 L246.2,132.9 L247.2,132.4 L248.2,131.8 L249.2,131.3 L250.2,130.7 L251.2,130.2 L252.2,129.6 L253.2,129.1 L254.2,128.5 L255.2,128.0 L256.2,127.4 L257.2,126.9 L258.2,126.4 L259.2,125.8 L260.2,125.3 L261.2,124.8 L262.2,124.2 L263.2,123.7 L264.2,123.2 L265.2,122.7 L266.2,122.1 L267.2,121.6 L268.2,121.1 L269.2,120.6 L270.2,120.1 L271.2,119.6 L272.2,119.0 L273.2,118.5 L274.2,118.0 L275.2,117.5 L276.2,117.0 L277.2,116.5 L278.2,116.0 L279.2,115.5 L280.2,114.9 L281.2,114.4 L282.2,113.9 L283.2,113.4 L284.2,112.9 L285.2,112.4 L286.2,111.9 L287.2,111.4 L288.2,110.9 L289.2,110.4 L290.2,109.8 L291.2,109.3 L292.2,108.8 L293.2,108.3 L294.2,107.8 L295.2,107.3 L296.2,106.8 L297.2,106.3 L298.2,105.7 L299.2,105.2 L300.2,104.7 L301.2,104.2 L302.2,103.7 L303.2,103.2 L304.2,102.6 L305.2,102.1 L306.2,101.6 L307.2,101.1 L308.2,100.5 L309.2,100.0 L310.2,99.5 L311.2,98.9 L312.2,98.4 L313.2,97.9 L314.2,97.3 L315.2,96.8 L316.2,96.3 L317.2,95.7 L318.2,95.2 L319.2,94.6 L320.2,94.1 L321.2,93.5 L322.2,93.0 L323.2,92.4 L324.2,91.9 L325.2,91.3 L326.2,90.8 L327.2,90.2 L328.2,89.7 L329.2,89.1 L330.2,88.6 L331.2,88.0 L332.2,87.5 L333.2,86.9 L334.2,86.4 L335.2,85.9 L336.2,85.4 L337.2,84.9 L338.2,84.5 L339.2,84.0 L340.2,83.7 L341.2,83.4 L342.2,83.1 L343.2,82.8 L344.2,82.4 L345.2,82.0 L345.5,81.9" fill="none" stroke="#ff00ff" stroke-width="1.05" stroke-opacity="0.9"/>
<path d="M166.2,186.1 L167.2,185.4 L168.2,184.7 L169.2,184.0 L170.2,183.2 L171.2,182.5 L172.2,181.7 L173.2,181.0 L174.2,180.2 L175.2,179.5 L176.2,178.7 L177.2,178.0 L178.2,177.2 L179.2,176.4 L180.2,175.7 L181.2,174.9 L182.2,174.1 L183.2,173.3 L184.2,172.5 L185.2,171.8 L186.2,171.0 L187.2,170.2 L188.2,169.4 L189.2,168.6 L190.2,167.8 L191.2,167.0 L192.2,166.3 L193.2,165.5 L194.2,164.7 L195.2,163.9 L196.2,163.1 L197.2,162.3 L198.2,161.5 L199.2,160.8 L200.2,160.0 L201.2,159.2 L202.2,158.4 L203.2,157.7 L204.2,156.9 L205.2,156.1 L206.2,155.4 L207.2,154.6 L208.2,153.8 L209.2,153.1 L210.2,152.3 L211.2,151.6 L212.2,150.8 L213.2,150.1 L214.2,149.4 L215.2,148.7 L216.2,147.9 L217.2,147.2 L218.2,146.5 L219.2,145.8 L220.2,145.1 L221.2,144.4 L222.2,143.7 L223.2,143.0 L224.2,142.4 L225.2,141.7 L226.2,141.0 L227.2,140.4 L228.2,139.7 L229.2,139.1 L230.2,138.4 L231.2,137.8 L232.2,137.2 L233.2,136.6 L234.2,135.9 L235.2,135.3 L236.2,134.7 L237.2,134.1 L238.2,133.5 L239.2,132.9 L240.2,132.3 L241.2,131.7 L242.2,131.1 L243.2,130.6 L244.2,130.0 L245.2,129.4 L246.2,128.8 L247.2,128.3 L248.2,127.7 L249.2,127.2 L250.2,126.6 L251.2,126.1 L252.2,125.5 L253.2,125.0 L254.2,124.4 L255.2,123.9 L256.2,123.3 L257.2,122.8 L258.2,122.3 L259.2,121.7 L260.2,121.2 L261.2,120.7 L262.2,120.1 L263.2,119.6 L264.2,119.1 L265.2,118.6 L266.2,118.0 L267.2,117.5 L268.2,117.0 L269.2,116.5 L270.2,116.0 L271.2,115.5 L272.2,114.9 L273.2,114.4 L274.2,113.9 L275.2,113.4 L276.2,112.9 L277.2,112.4 L278.2,111.9 L279.2,111.3 L280.2,110.8 L281.2,110.3 L282.2,109.8 L283.2,109.3 L284.2,108.8 L285.2,108.3 L286.2,107.8 L287.2,107.3 L288.2,106.7 L289.2,106.2 L290.2,105.7 L291.2,105.2 L292.2,104.7 L293.2,104.2 L294.2,103.7 L295.2,103.2 L296.2,102.6 L297.2,102.1 L298.2,101.6 L299.2,101.1 L300.2,100.6 L301.2,100.0 L302.2,99.5 L303.2,99.0 L304.2,98.5 L305.2,98.0 L306.2,97.4 L307.2,96.9 L308.2,96.4 L309.2,95.9 L310.2,95.3 L311.2,94.8 L312.2,94.3 L313.2,93.7 L314.2,93.2 L315.2,92.6 L316.2,92.1 L317.2,91.6 L318.2,91.0 L319.2,90.5 L320.2,89.9 L321.2,89.4 L322.2,88.8 L323.2,88.2 L324.2,87.7 L325.2,87.1 L326.2,86.6 L327.2,86.0 L328.2,85.4 L329.2,84.9 L330.2,84.3 L331.2,83.7 L332.2,83.1 L333.2,82.5 L334.2,81.8 L335.2,81.2 L336.2,80.5 L337.2,79.9 L338.2,79.2 L339.2,78.5 L340.2,77.8 L341.2,77.0 L342.2,76.2 L343.2,75.4 L344.2,74.6 L345.2,73.8 L345.5,73.5" fill="none" stroke="#ff00ff" stroke-width="1.05" stroke-opacity="0.9"/>
<path d="M161.3,179.9 L162.3,179.0 L163.3,178.1 L164.3,177.2 L165.3,176.3 L166.3,175.4 L167.3,174.5 L168.3,173.5 L169.3,172.6 L170.3,171.7 L171.3,170.7 L172.3,169.8 L173.3,168.8 L174.3,167.9 L175.3,166.9 L176.3,166.0 L177.3,165.0 L178.3,164.1 L179.3,163.1 L180.3,162.2 L181.3,161.2 L182.3,160.2 L183.3,159.3 L184.3,158.3 L185.3,157.3 L186.3,156.4 L187.3,155.4 L188.3,154.4 L189.3,153.5 L190.3,152.5 L191.3,151.5 L192.3,150.5 L193.3,149.5 L194.3,148.5 L195.3,147.5 L196.3,146.5 L197.3,145.5 L198.3,144.4 L199.3,143.4 L200.3,142.4 L201.3,141.4 L202.3,140.4 L203.3,139.4 L204.3,138.5 L205.3,137.5 L206.3,136.6 L207.3,135.6 L208.3,134.7 L209.3,133.8 L210.3,132.8 L211.3,131.9 L212.3,131.0 L213.3,130.1 L214.3,129.2 L215.3,128.3 L216.3,127.4 L217.3,126.5 L218.3,125.6 L219.3,124.7 L220.3,123.8 L221.3,122.9 L222.3,122.1 L223.3,121.2 L224.3,120.4 L225.3,119.5 L226.3,118.7 L227.3,117.8 L228.3,117.0 L229.3,116.2 L230.3,115.4 L231.3,114.6 L232.3,113.8 L233.3,113.0 L234.3,112.2 L235.3,111.4 L236.3,110.7 L237.3,109.9 L238.3,109.1 L239.3,108.4 L240.3,107.7 L241.3,106.9 L242.3,106.2 L243.3,105.5 L244.3,104.8 L245.3,104.1 L246.3,103.4 L247.3,102.7 L248.3,102.0 L249.3,101.3 L250.3,100.6 L251.3,99.9 L252.3,99.3 L253.3,98.6 L254.3,98.0 L255.3,97.3 L256.3,96.7 L257.3,96.1 L258.3,95.5 L259.3,94.9 L260.3,94.3 L261.3,93.7 L262.3,93.2 L263.3,92.6 L264.3,92.1 L265.3,91.5 L266.3,91.0 L267.3,90.5 L268.3,90.0 L269.3,89.5 L270.3,89.0 L271.3,88.5 L272.3,88.0 L273.3,87.6 L274.3,87.1 L275.3,86.7 L276.3,86.3 L277.3,86.0 L278.3,85.6 L279.3,85.2 L280.3,84.9 L281.3,84.6 L282.3,84.3 L283.3,84.0 L283.6,83.9 L283.6,94.6 L283.3,94.7 L282.3,94.8 L281.3,95.0 L280.3,95.2 L279.3,95.5 L278.3,95.7 L277.3,95.9 L276.3,96.2 L275.3,96.5 L274.3,96.8 L273.3,97.1 L272.3,97.4 L271.3,97.7 L270.3,98.1 L269.3,98.4 L268.3,98.8 L267.3,99.2 L266.3,99.6 L265.3,100.0 L264.3,100.4 L263.3,100.8 L262.3,101.2 L261.3,101.6 L260.3,102.1 L259.3,102.5 L258.3,103.0 L257.3,103.5 L256.3,104.0 L255.3,104.5 L254.3,105.1 L253.3,105.7 L252.3,106.3 L251.3,106.9 L250.3,107.5 L249.3,108.1 L248.3,108.8 L247.3,109.5 L246.3,110.1 L245.3,110.8 L244.3,111.5 L243.3,112.2 L242.3,112.9 L241.3,113.6 L240.3,114.3 L239.3,115.1 L238.3,115.8 L237.3,116.5 L236.3,117.3 L235.3,118.1 L234.3,118.8 L233.3,119.6 L232.3,120.4 L231.3,121.2 L230.3,122.0 L229.3,122.8 L228.3,123.6 L227.3,124.4 L226.3,125.2 L225.3,126.1 L224.3,126.9 L223.3,127.7 L222.3,128.6 L221.3,129.4 L220.3,130.3 L219.3,131.1 L218.3,132.0 L217.3,132.8 L216.3,133.7 L215.3,134.6 L214.3,135.4 L213.3,136.3 L212.3,137.2 L211.3,138.1 L210.3,139.0 L209.3,139.9 L208.3,140.8 L207.3,141.7 L206.3,142.6 L205.3,143.6 L204.3,144.5 L203.3,145.4 L202.3,146.3 L201.3,147.3 L200.3,148.2 L199.3,149.2 L198.3,150.1 L197.3,151.1 L196.3,152.0 L195.3,153.0 L194.3,154.0 L193.3,154.9 L192.3,155.9 L191.3,156.9 L190.3,157.9 L189.3,158.9 L188.3,159.8 L187.3,160.8 L186.3,161.8 L185.3,162.8 L184.3,163.8 L183.3,164.7 L182.3,165.7 L181.3,166.7 L180.3,167.7 L179.3,168.6 L178.3,169.6 L177.3,170.6 L176.3,171.6 L175.3,172.5 L174.3,173.5 L173.3,174.4 L172.3,175.4 L171.3,176.3 L170.3,177.3 L169.3,178.2 L168.3,179.1 L167.3,179.9 L166.3,180.8 L165.3,181.6 L164.3,182.4 L163.3,183.1 L162.3,183.9 L161.3,184.6 Z" fill="#0000ff" fill-opacity="0.18" stroke="none"/>
<path d="M161.3,179.9 L162.3,179.0 L163.3,178.1 L164.3,177.2 L165.3,176.3 L166.3,175.4 L167.3,174.5 L168.3,173.5 L169.3,172.6 L170.3,171.7 L171.3,170.7 L172.3,169.8 L173.3,168.8 L174.3,167.9 L175.3,166.9 L176.3,166.0 L177.3,165.0 L178.3,164.1 L179.3,163.1 L180.3,162.2 L181.3,161.2 L182.3,160.2 L183.3,159.3 L184.3,158.3 L185.3,157.3 L186.3,156.4 L187.3,155.4 L188.3,154.4 L189.3,153.5 L190.3,152.5 L191.3,151.5 L192.3,150.5 L193.3,149.5 L194.3,148.5 L195.3,147.5 L196.3,146.5 L197.3,145.5 L198.3,144.4 L199.3,143.4 L200.3,142.4 L201.3,141.4 L202.3,140.4 L203.3,139.4 L204.3,138.5 L205.3,137.5 L206.3,136.6 L207.3,135.6 L208.3,134.7 L209.3,133.8 L210.3,132.8 L211.3,131.9 L212.3,131.0 L213.3,130.1 L214.3,129.2 L215.3,128.3 L216.3,127.4 L217.3,126.5 L218.3,125.6 L219.3,124.7 L220.3,123.8 L221.3,122.9 L222.3,122.1 L223.3,121.2 L224.3,120.4 L225.3,119.5 L226.3,118.7 L227.3,117.8 L228.3,117.0 L229.3,116.2 L230.3,115.4 L231.3,114.6 L232.3,113.8 L233.3,113.0 L234.3,112.2 L235.3,111.4 L236.3,110.7 L237.3,109.9 L238.3,109.1 L239.3,108.4 L240.3,107.7 L241.3,106.9 L242.3,106.2 L243.3,105.5 L244.3,104.8 L245.3,104.1 L246.3,103.4 L247.3,102.7 L248.3,102.0 L249.3,101.3 L250.3,100.6 L251.3,99.9 L252.3,99.3 L253.3,98.6 L254.3,98.0 L255.3,97.3 L256.3,96.7 L257.3,96.1 L258.3,95.5 L259.3,94.9 L260.3,94.3 L261.3,93.7 L262.3,93.2 L263.3,92.6 L264.3,92.1 L265.3,91.5 L266.3,91.0 L267.3,90.5 L268.3,90.0 L269.3,89.5 L270.3,89.0 L271.3,88.5 L272.3,88.0 L273.3,87.6 L274.3,87.1 L275.3,86.7 L276.3,86.3 L277.3,86.0 L278.3,85.6 L279.3,85.2 L280.3,84.9 L281.3,84.6 L282.3,84.3 L283.3,84.0 L283.6,83.9" fill="none" stroke="#0000ff" stroke-width="1.0" stroke-opacity="0.9"/>
<path d="M161.3,184.6 L162.3,183.9 L163.3,183.1 L164.3,182.4 L165.3,181.6 L166.3,180.8 L167.3,179.9 L168.3,179.1 L169.3,178.2 L170.3,177.3 L171.3,176.3 L172.3,175.4 L173.3,174.4 L174.3,173.5 L175.3,172.5 L176.3,171.6 L177.3,170.6 L178.3,169.6 L179.3,168.6 L180.3,167.7 L181.3,166.7 L182.3,165.7 L183.3,164.7 L184.3,163.8 L185.3,162.8 L186.3,161.8 L187.3,160.8 L188.3,159.8 L189.3,158.9 L190.3,157.9 L191.3,156.9 L192.3,155.9 L193.3,154.9 L194.3,154.0 L195.3,153.0 L196.3,152.0 L197.3,151.1 L198.3,150.1 L199.3,149.2 L200.3,148.2 L201.3,147.3 L202.3,146.3 L203.3,145.4 L204.3,144.5 L205.3,143.6 L206.3,142.6 L207.3,141.7 L208.3,140.8 L209.3,139.9 L210.3,139.0 L211.3,138.1 L212.3,137.2 L213.3,136.3 L214.3,135.4 L215.3,134.6 L216.3,133.7 L217.3,132.8 L218.3,132.0 L219.3,131.1 L220.3,130.3 L221.3,129.4 L222.3,128.6 L223.3,127.7 L224.3,126.9 L225.3,126.1 L226.3,125.2 L227.3,124.4 L228.3,123.6 L229.3,122.8 L230.3,122.0 L231.3,121.2 L232.3,120.4 L233.3,119.6 L234.3,118.8 L235.3,118.1 L236.3,117.3 L237.3,116.5 L238.3,115.8 L239.3,115.1 L240.3,114.3 L241.3,113.6 L242.3,112.9 L243.3,112.2 L244.3,111.5 L245.3,110.8 L246.3,110.1 L247.3,109.5 L248.3,108.8 L249.3,108.1 L250.3,107.5 L251.3,106.9 L252.3,106.3 L253.3,105.7 L254.3,105.1 L255.3,104.5 L256.3,104.0 L257.3,103.5 L258.3,103.0 L259.3,102.5 L260.3,102.1 L261.3,101.6 L262.3,101.2 L263.3,100.8 L264.3,100.4 L265.3,100.0 L266.3,99.6 L267.3,99.2 L268.3,98.8 L269.3,98.4 L270.3,98.1 L271.3,97.7 L272.3,97.4 L273.3,97.1 L274.3,96.8 L275.3,96.5 L276.3,96.2 L277.3,95.9 L278.3,95.7 L279.3,95.5 L280.3,95.2 L281.3,95.0 L282.3,94.8 L283.3,94.7 L283.6,94.6" fill="none" stroke="#0000ff" stroke-width="1.0" stroke-opacity="0.9"/>
<path d="M161.3,182.3 L162.3,181.4 L163.3,180.5 L164.3,179.6 L165.3,178.7 L166.3,177.8 L167.3,176.9 L168.3,175.9 L169.3,175.0 L170.3,174.1 L171.3,173.1 L172.3,172.2 L173.3,171.3 L174.3,170.3 L175.3,169.4 L176.3,168.4 L177.3,167.5 L178.3,166.6 L179.3,165.6 L180.3,164.7 L181.3,163.7 L182.3,162.7 L183.3,161.8 L184.3,160.8 L185.3,159.9 L186.3,158.9 L187.3,158.0 L188.3,157.0 L189.3,156.1 L190.3,155.1 L191.3,154.2 L192.3,153.2 L193.3,152.3 L194.3,151.3 L195.3,150.3 L196.3,149.4 L197.3,148.4 L198.3,147.5 L199.3,146.6 L200.3,145.6 L201.3,144.7 L202.3,143.7 L203.3,142.8 L204.3,141.9 L205.3,140.9 L206.3,140.0 L207.3,139.1 L208.3,138.2 L209.3,137.2 L210.3,136.3 L211.3,135.4 L212.3,134.5 L213.3,133.6 L214.3,132.7 L215.3,131.8 L216.3,130.9 L217.3,130.0 L218.3,129.1 L219.3,128.3 L220.3,127.4 L221.3,126.5 L222.3,125.7 L223.3,124.8 L224.3,124.0 L225.3,123.1 L226.3,122.3 L227.3,121.4 L228.3,120.6 L229.3,119.8 L230.3,119.0 L231.3,118.2 L232.3,117.4 L233.3,116.6 L234.3,115.8 L235.3,115.0 L236.3,114.3 L237.3,113.5 L238.3,112.7 L239.3,112.0 L240.3,111.3 L241.3,110.5 L242.3,109.8 L243.3,109.1 L244.3,108.4 L245.3,107.7 L246.3,107.0 L247.3,106.3 L248.3,105.7 L249.3,105.0 L250.3,104.4 L251.3,103.7 L252.3,103.1 L253.3,102.5 L254.3,101.9 L255.3,101.3 L256.3,100.7 L257.3,100.1 L258.3,99.6 L259.3,99.0 L260.3,98.5 L261.3,97.9 L262.3,97.4 L263.3,96.9 L264.3,96.4 L265.3,95.9 L266.3,95.5 L267.3,95.0 L268.3,94.6 L269.3,94.2 L270.3,93.7 L271.3,93.3 L272.3,92.9 L273.3,92.6 L274.3,92.2 L275.3,91.9 L276.3,91.5 L277.3,91.2 L278.3,90.9 L279.3,90.6 L280.3,90.3 L281.3,90.1 L282.3,89.8 L283.3,89.6 L283.6,89.5" fill="none" stroke="#0000ff" stroke-width="1.35" stroke-dasharray="1.2,1.6" stroke-opacity="0.9"/>
<path d="M312.3,181.9 H343.0" stroke="#00ee00" stroke-width="1.5" stroke-dasharray="2,1.06" stroke-opacity="0.9"/>
<path d="M312.3,193.4 H343.0" stroke="#ff0000" stroke-width="1.2"/>
<path d="M312.3,204.9 H343.0" stroke="#ff00ff" stroke-width="1.4" stroke-dasharray="2.8,0.9" stroke-opacity="0.6"/>
<path d="M312.3,216.3 H343.0" stroke="#0000ff" stroke-width="1.3" stroke-dasharray="1.1,1.23"/>
</g>
<g shape-rendering="auto">
<rect x="63.0" y="13.5" width="294.0" height="212.0" fill="none" stroke="#1a1a1a" stroke-width="1"/>
<path d="M95.67,225.5 v-3.5 M95.67,13.5 v3.5" stroke="#1a1a1a" stroke-width="1"/>
<path d="M128.33,225.5 v-3.5 M128.33,13.5 v3.5" stroke="#1a1a1a" stroke-width="1"/>
<path d="M161.00,225.5 v-3.5 M161.00,13.5 v3.5" stroke="#1a1a1a" stroke-width="1"/>
<path d="M193.67,225.5 v-3.5 M193.67,13.5 v3.5" stroke="#1a1a1a" stroke-width="1"/>
<path d="M226.33,225.5 v-3.5 M226.33,13.5 v3.5" stroke="#1a1a1a" stroke-width="1"/>
<path d="M259.00,225.5 v-3.5 M259.00,13.5 v3.5" stroke="#1a1a1a" stroke-width="1"/>
<path d="M291.67,225.5 v-3.5 M291.67,13.5 v3.5" stroke="#1a1a1a" stroke-width="1"/>
<path d="M324.33,225.5 v-3.5 M324.33,13.5 v3.5" stroke="#1a1a1a" stroke-width="1"/>
<path d="M63.0,201.41 h3.3 M357.0,201.41 h-3.3" stroke="#1a1a1a" stroke-width="1"/>
<path d="M63.0,177.32 h3.3 M357.0,177.32 h-3.3" stroke="#1a1a1a" stroke-width="1"/>
<path d="M63.0,153.23 h3.3 M357.0,153.23 h-3.3" stroke="#1a1a1a" stroke-width="1"/>
<path d="M63.0,129.14 h3.3 M357.0,129.14 h-3.3" stroke="#1a1a1a" stroke-width="1"/>
<path d="M63.0,105.05 h3.3 M357.0,105.05 h-3.3" stroke="#1a1a1a" stroke-width="1"/>
<path d="M63.0,80.95 h3.3 M357.0,80.95 h-3.3" stroke="#1a1a1a" stroke-width="1"/>
<path d="M63.0,56.86 h3.3 M357.0,56.86 h-3.3" stroke="#1a1a1a" stroke-width="1"/>
<path d="M63.0,32.77 h3.3 M357.0,32.77 h-3.3" stroke="#1a1a1a" stroke-width="1"/>
</g>
<g style="filter:grayscale(1)">
<text x="64.10" y="239.6" text-anchor="middle" font-size="10.3">0</text>
<text x="96.77" y="239.6" text-anchor="middle" font-size="10.3">2</text>
<text x="129.43" y="239.6" text-anchor="middle" font-size="10.3">4</text>
<text x="162.10" y="239.6" text-anchor="middle" font-size="10.3">6</text>
<text x="194.77" y="239.6" text-anchor="middle" font-size="10.3">8</text>
<text x="227.43" y="239.6" text-anchor="middle" font-size="10.3">10</text>
<text x="260.10" y="239.6" text-anchor="middle" font-size="10.3">12</text>
<text x="292.77" y="239.6" text-anchor="middle" font-size="10.3">14</text>
<text x="325.43" y="239.6" text-anchor="middle" font-size="10.3">16</text>
<text x="358.10" y="239.6" text-anchor="middle" font-size="10.3">18</text>
<text x="56.0" y="228.90" text-anchor="end" font-size="10.3">0</text>
<text x="56.0" y="204.81" text-anchor="end" font-size="10.3">0.5</text>
<text x="56.0" y="180.72" text-anchor="end" font-size="10.3">1</text>
<text x="56.0" y="156.63" text-anchor="end" font-size="10.3">1.5</text>
<text x="56.0" y="132.54" text-anchor="end" font-size="10.3">2</text>
<text x="56.0" y="108.45" text-anchor="end" font-size="10.3">2.5</text>
<text x="56.0" y="84.35" text-anchor="end" font-size="10.3">3</text>
<text x="56.0" y="60.26" text-anchor="end" font-size="10.3">3.5</text>
<text x="56.0" y="36.17" text-anchor="end" font-size="10.3">4</text>
<text x="305.3" y="184.40" text-anchor="end" font-size="10.5"><tspan letter-spacing="0.2">1HYP;</tspan> <tspan font-style="italic" font-size="12.2" dx="-0.8">τ</tspan><tspan font-size="7.9" dy="1.9" font-style="normal">0</tspan><tspan dy="-1.9" dx="0.2"> = 0.0</tspan></text>
<text x="305.3" y="195.90" text-anchor="end" font-size="10.5"><tspan letter-spacing="0.2">1HYP;</tspan> <tspan font-style="italic" font-size="12.2" dx="-0.8">τ</tspan><tspan font-size="7.9" dy="1.9" font-style="italic">opt</tspan><tspan dy="-1.9" dx="0.2"> = 0.07</tspan></text>
<text x="305.3" y="207.40" text-anchor="end" font-size="10.5"><tspan letter-spacing="0.2">2HYP;</tspan> <tspan font-style="italic" font-size="12.2" dx="-0.8">τ</tspan><tspan font-size="7.9" dy="1.9" font-style="normal">0</tspan><tspan dy="-1.9" dx="0.2"> = 0.0</tspan></text>
<text x="305.3" y="218.80" text-anchor="end" font-size="10.5"><tspan letter-spacing="0.2">2HYP;</tspan> <tspan font-style="italic" font-size="12.2" dx="-0.8">τ</tspan><tspan font-size="7.9" dy="1.9" font-style="italic">opt</tspan><tspan dy="-1.9" dx="0.2"> = 0.18</tspan></text>
<text x="158.6" y="35.8" font-size="15" font-style="italic">N</text><text x="169.5" y="38.3" font-size="11" font-style="italic">f</text><text x="179.3" y="38.1" font-size="16.5">=</text><text x="193.3" y="35.8" font-size="15">8</text><text x="219.8" y="35.8" font-size="15">c=0.25</text>
<text x="3.6" y="123.0" font-size="14.5" font-style="italic">β</text><text x="11.6" y="125.0" font-size="11" letter-spacing="0.6">3/2</text>
<text x="203.0" y="258.3" font-size="14.5" font-style="italic">g</text><text x="210.6" y="253.4" font-size="10.2">2</text><text x="210.4" y="261.8" font-size="10.2" font-style="italic">c</text>
</g>
</svg>
</body></html>
